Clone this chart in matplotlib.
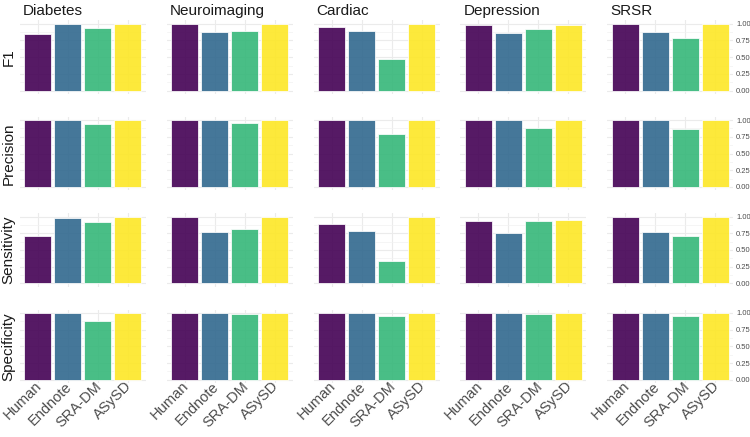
import numpy as np
import matplotlib
matplotlib.use('Agg')
import matplotlib.pyplot as plt
import matplotlib.transforms as mtransforms
from matplotlib.ticker import MultipleLocator

plt.rcParams['font.family'] = ['Liberation Sans', 'DejaVu Sans']

# data
datasets = ['Diabetes', 'Neuroimaging', 'Cardiac', 'Depression', 'SRSR']
methods  = ['Human', 'Endnote', 'SRA-DM', 'ASySD']
metrics  = ['F1', 'Precision', 'Sensitivity', 'Specificity']

# one row per dataset, one value per method
f1 = [[0.84, 0.995, 0.94, 1.00],
      [0.995, 0.87, 0.89, 0.995],
      [0.95, 0.89, 0.47, 1.00],
      [0.98, 0.865, 0.915, 0.985],
      [0.995, 0.87, 0.79, 0.995]]
precision = [[0.995, 1.00, 0.945, 1.00],
             [0.995, 0.995, 0.955, 0.995],
             [1.00, 1.00, 0.80, 1.00],
             [0.995, 1.00, 0.875, 0.995],
             [0.995, 0.995, 0.866, 0.995]]
sensitivity = [[0.713, 0.973, 0.918, 1.00],
               [0.993, 0.763, 0.813, 0.997],
               [0.892, 0.783, 0.335, 1.00],
               [0.937, 0.75, 0.933, 0.95],
               [1.00, 0.763, 0.713, 0.988]]
specificity = [[1.00, 1.00, 0.885, 1.00],
               [1.00, 1.00, 0.985, 1.00],
               [1.00, 1.00, 0.96, 1.00],
               [1.00, 1.00, 0.985, 1.00],
               [1.00, 1.00, 0.95, 1.00]]
values = [f1, precision, sensitivity, specificity]

colors = ['#440154', '#31688E', '#35B779', '#FDE725']

# figure and panel geometry (pixels)
W, H = 750, 437
fig = plt.figure(figsize=(W / 100, H / 100), dpi=100)

panelW, panelH = 126, 73.5
left0, stepX = 19.7, 146.9
top0, stepY = 20.4, 96.4

# shift for the rotated x labels (baseline end sits right of / below the tick)
labelShift = mtransforms.ScaledTranslation(5.0 / 100, -3.8 / 100, fig.dpi_scale_trans)

x = np.arange(len(methods))
for j, metric in enumerate(metrics):
    for i, ds in enumerate(datasets):
        left = left0 + stepX * i
        top = top0 + stepY * j
        ax = fig.add_axes([left / W, 1 - (top + panelH) / H, panelW / W, panelH / H])
        ax.set_axisbelow(True)
        ax.bar(x, values[j][i], width=0.9, color=colors, alpha=0.9,
               edgecolor='white', linewidth=0.6)
        ax.set_xlim(-0.6, 3.6)
        ax.set_ylim(-0.05, 1.05)

        # theme_minimal look
        for s in ax.spines.values():
            s.set_visible(False)
        ax.yaxis.set_major_locator(MultipleLocator(0.25))
        ax.yaxis.set_minor_locator(MultipleLocator(0.125))
        ax.set_xticks(x)
        ax.grid(True, which='major', color='#EBEBEB', linewidth=0.8)
        ax.grid(True, which='minor', axis='y', color='#F2F2F2', linewidth=0.5)
        ax.tick_params(which='both', length=0)

        # x labels only on the bottom row
        if j == len(metrics) - 1:
            ax.set_xticklabels(methods, rotation=45, ha='right', va='baseline',
                               rotation_mode='anchor', fontsize=10.5, color='#4D4D4D')
            ax.tick_params(axis='x', pad=0)
            for lab in ax.get_xticklabels():
                lab.set_transform(lab.get_transform() + labelShift)
        else:
            ax.set_xticklabels([])

        # y axis on the right of the last column
        if i == len(datasets) - 1:
            ax.yaxis.tick_right()
            ax.set_yticks(np.arange(0, 1.01, 0.25))
            ax.set_yticklabels(['%0.2f' % v for v in np.arange(0, 1.01, 0.25)],
                               fontsize=5.5, color='#4D4D4D')
            ax.tick_params(axis='y', pad=2)
        else:
            ax.set_yticklabels([])

        # strip labels
        if j == 0:
            ax.text(3 / panelW, 1.0 + 5.5 / panelH, ds, transform=ax.transAxes,
                    fontsize=11, color='#1A1A1A', ha='left', va='baseline')
        if i == 0:
            ax.text(-11 / panelW, 0.5, metric, transform=ax.transAxes, rotation=90,
                    fontsize=11, color='#1A1A1A', ha='center', va='center')

fig.savefig('out.png', dpi=100)
